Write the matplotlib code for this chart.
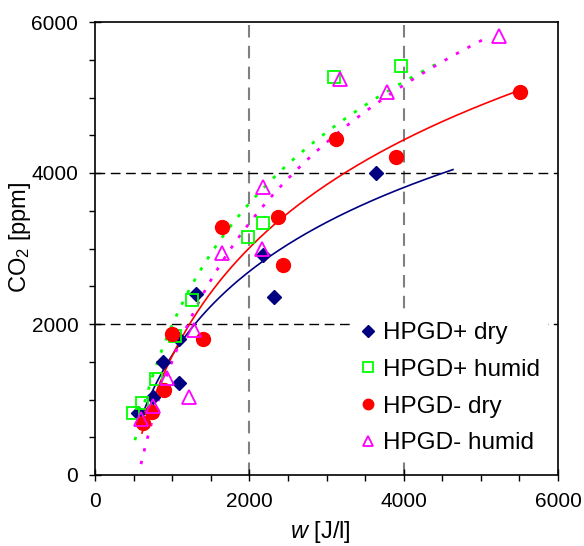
import numpy as np
import matplotlib
matplotlib.use("Agg")
import matplotlib.pyplot as plt

plt.rcParams['font.family'] = ['Liberation Sans', 'DejaVu Sans']
plt.rcParams['mathtext.fontset'] = 'custom'
plt.rcParams['mathtext.rm'] = 'Liberation Sans'
plt.rcParams['mathtext.it'] = 'Liberation Sans:italic'

# ---- data (w [J/l], CO2 [ppm]) ----
plus_dry_w = [557, 752, 881, 1088, 1088, 1309, 2177, 2320, 3641]
plus_dry_c = [821, 1033, 1497, 1219, 1801, 2397, 2914, 2358, 4000]

plus_hum_w = [492, 609, 790, 1037, 1257, 1983, 2177, 3097, 3965]
plus_hum_c = [821, 954, 1272, 1841, 2318, 3152, 3338, 5272, 5417]

minus_dry_w = [622, 739, 894, 998, 1400, 1646, 2371, 2436, 3123, 3900, 5507]
minus_dry_c = [689, 834, 1126, 1868, 1801, 3285, 3417, 2781, 4450, 4212, 5073]

minus_hum_w = [596, 752, 928, 1218, 1283, 1646, 2164, 2177, 3175, 3784, 5235]
minus_hum_c = [742, 914, 1285, 1033, 1921, 2940, 2993, 3815, 5245, 5073, 5815]

# logarithmic trend line ranges (w start, w end)
plus_dry_range = [583, 4639]
plus_hum_range = [518, 4471]
minus_dry_range = [609, 5507]
minus_hum_range = [596, 5119]

labels = ['HPGD+ dry', 'HPGD+ humid', 'HPGD- dry', 'HPGD- humid']

fig = plt.figure(figsize=(5.84, 5.46), dpi=100)
ax = fig.add_axes([95/584, 71/546, 463/584, 453/546])

def trend(w, c, rng):
    a, b = np.polyfit(np.log(w), c, 1)
    x = np.linspace(rng[0], rng[1], 200)
    return x, a*np.log(x) + b

# grid lines
for v in [2000, 4000]:
    ax.axvline(v, color='#808080', lw=1.5, ls=(0, (6, 4)), zorder=1)
    ax.axhline(v, color='black', lw=1.0, ls=(0, (7, 4)), zorder=1)

x, y = trend(plus_dry_w, plus_dry_c, plus_dry_range)
ax.plot(x, y, color='#000080', lw=1.2, zorder=2)
x, y = trend(minus_dry_w, minus_dry_c, minus_dry_range)
ax.plot(x, y, color='#FF0000', lw=1.2, zorder=2)
x, y = trend(plus_hum_w, plus_hum_c, plus_hum_range)
ax.plot(x, y, color='#00FF00', lw=2.0, ls=(0, (1.2, 3.5)), zorder=2)
x, y = trend(minus_hum_w, minus_hum_c, minus_hum_range)
ax.plot(x, y, color='#FF00FF', lw=2.0, ls=(0, (1.2, 3.5)), zorder=2)

ax.plot(plus_dry_w, plus_dry_c, ls='none', marker='D', ms=7.5, color='#000080',
        mec='#000080', label=labels[0], zorder=3)
ax.plot(plus_hum_w, plus_hum_c, ls='none', marker='s', ms=9, mfc='none',
        mec='#00FF00', mew=1.3, label=labels[1], zorder=3)
ax.plot(minus_dry_w, minus_dry_c, ls='none', marker='o', ms=10, color='#FF0000',
        label=labels[2], zorder=3)
ax.plot(minus_hum_w, minus_hum_c, ls='none', marker='^', ms=10.5, mfc='none',
        mec='#FF00FF', mew=1.3, label=labels[3], zorder=3)

ax.set_xlim(0, 6000)
ax.set_ylim(0, 6000)
ax.set_xticks([0, 2000, 4000, 6000])
ax.set_yticks([0, 2000, 4000, 6000])
ax.set_xticks(np.arange(0, 6001, 500), minor=True)
ax.set_yticks(np.arange(0, 6001, 500), minor=True)
ax.tick_params(which='major', direction='inout', length=8, width=1, labelsize=15, pad=8)
ax.tick_params(which='minor', direction='out', length=4, width=1)
for s in ax.spines.values():
    s.set_linewidth(1.2)

ax.set_xlabel('$w$ [J/l]', fontsize=17)
ax.xaxis.set_label_coords(0.486, -0.097)
ax.set_ylabel('CO$_2$ [ppm]', fontsize=17)
ax.yaxis.set_label_coords(-0.134, 0.524)

leg = ax.legend(loc='upper left', bbox_to_anchor=(0.531, 0.38), frameon=True,
                facecolor='white', edgecolor='none', framealpha=1, fontsize=17.5,
                handlelength=0.6, handletextpad=0.35, labelspacing=0.6,
                borderpad=0.3, markerscale=0.75)

fig.savefig('out.png', dpi=100)
